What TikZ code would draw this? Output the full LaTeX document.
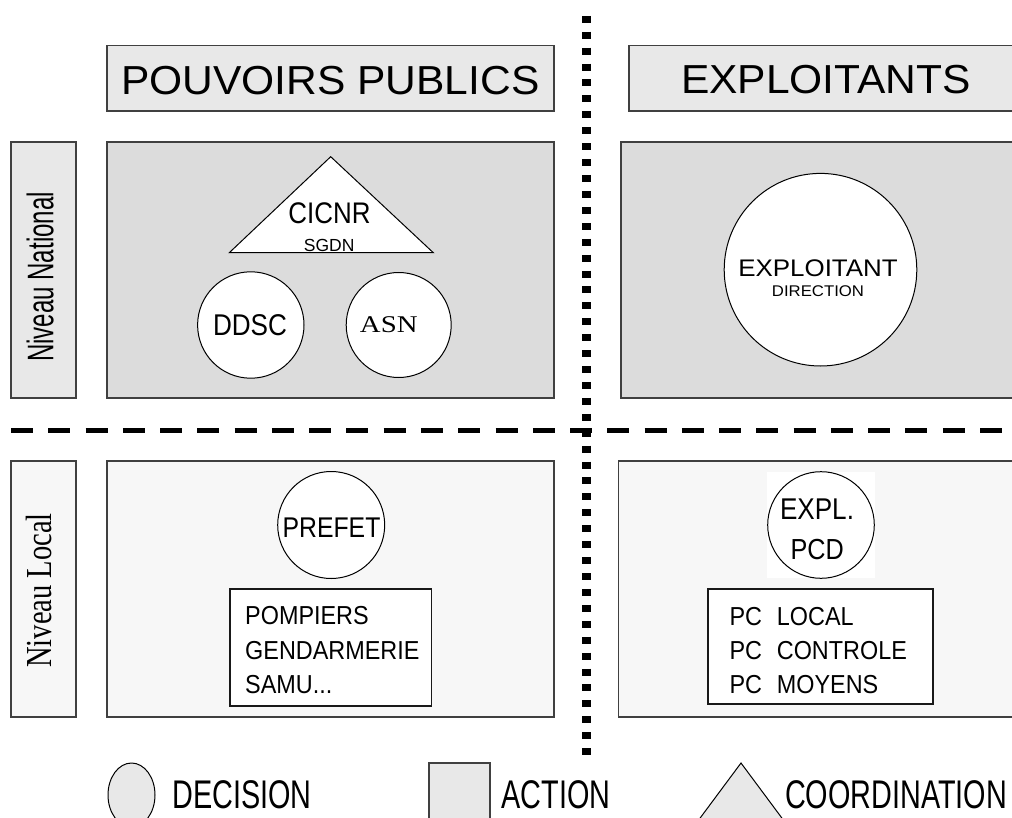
\documentclass[tikz,border=0pt]{standalone}
\usepackage{fontspec}
\setmainfont{Liberation Sans}
\newfontfamily\narH[FakeStretch=1.05]{Liberation Sans}
\newfontfamily\narA[FakeStretch=0.87]{Liberation Sans}
\newfontfamily\narB[FakeStretch=0.9]{Liberation Sans}
\newfontfamily\wideE[FakeStretch=1.08]{Liberation Sans}
\newfontfamily\narL[FakeStretch=0.72]{Liberation Sans}
\newfontfamily\narN[FakeStretch=0.65]{Liberation Sans}
\newfontfamily\serLoc[FakeStretch=0.78]{Liberation Serif}
\newfontfamily\serW[FakeStretch=1.2]{Liberation Serif}
\newcommand\fsz[1]{\fontsize{#1}{#1}\selectfont}
\definecolor{hdr}{HTML}{E8E8E8}
\definecolor{nat}{HTML}{DCDCDC}
\definecolor{loc}{HTML}{F7F7F7}
\definecolor{bord}{HTML}{404040}
\begin{document}
\begin{tikzpicture}[x=1pt,y=-1pt,
  panel/.style={rectangle, draw=bord, line width=1.6pt, inner sep=0pt},
  txt/.style={inner sep=0pt, anchor=base},
  ltxt/.style={inner sep=0pt, anchor=base west},
  circ/.style={circle, draw=black, line width=1pt, fill=white, inner sep=0pt},
  wbox/.style={rectangle, draw=black!90, line width=1.2pt, fill=white, inner sep=0pt}]
\useasboundingbox (0,0) rectangle (1012,818);
\clip (0,0) rectangle (1012,818);
\fill[white] (0,0) rectangle (1012,818);

% headers
\node[panel, fill=hdr, minimum width=447.3pt, minimum height=65.3pt] (hpp) at (330.35,78.35) {};
\node[panel, fill=hdr, minimum width=401pt, minimum height=65.3pt] (hex) at (829.5,78.35) {};
\node[txt] (tpp) at (330.3,95) {\narH\fsz{40.5}POUVOIRS PUBLICS};
\node[txt] (tex) at (826,94) {\narH\fsz{40.5}EXPLOITANTS};

% national row
\node[panel, fill=hdr, minimum width=64.7pt, minimum height=255.7pt] (lnat) at (43.35,269.85) {};
\node[panel, fill=nat, minimum width=447.3pt, minimum height=255.7pt] (pnat) at (330.35,269.85) {};
\node[panel, fill=nat, minimum width=409pt, minimum height=255.7pt] (enat) at (825.5,269.85) {};
\node[txt, rotate=90] (tlnat) at (53.3,277) {\narN\fsz{37}Niveau National};

% local row
\node[panel, fill=loc, minimum width=64.7pt, minimum height=255.7pt] (lloc) at (43.35,588.85) {};
\node[panel, fill=loc, minimum width=447.3pt, minimum height=255.7pt] (ploc) at (330.35,588.85) {};
\node[panel, fill=loc, minimum width=411.5pt, minimum height=255.7pt] (eloc) at (824.25,588.85) {};
\node[txt, rotate=90] (tlloc) at (51.7,590.5) {\serLoc\fsz{36.6}Niveau Local};

% coordination triangle
\filldraw[fill=white, draw=black, line width=1pt] (330.7,156.7) -- (229.3,252.7) -- (433.3,252.7) -- cycle;
\node[txt] (cicnr) at (329.5,224) {\narA\fsz{29.8}CICNR};
\node[txt] (sgdn) at (329.2,251.3) {\fsz{17.5}SGDN};

% national circles
\node[circ, minimum size=106.4pt] (ddsc) at (250.8,325) {};
\node[txt] (tddsc) at (250,335) {\narA\fsz{30}DDSC};
\node[circ, minimum size=105pt] (asn) at (398.7,325) {};
\node[txt] (tasn) at (388.8,332.3) {\serW\fsz{24}ASN};
\node[circ, minimum size=192.6pt] (expl) at (820.5,269.7) {};
\node[txt] (texpl) at (818,276.5) {\wideE\fsz{24}EXPLOITANT};
\node[txt] (tdir) at (818,296.5) {\wideE\fsz{15.5}DIRECTION};

% local
\node[circ, minimum size=107pt] (prefet) at (331.2,525) {};
\node[txt] (tprefet) at (331.5,537) {\narA\fsz{28.5}PREFET};
\node[rectangle, fill=white, inner sep=0pt, minimum width=108.3pt, minimum height=106.3pt] (pcdbg) at (820.85,524.85) {};
\node[circ, minimum size=106.6pt] (pcd) at (821,525) {};
\node[txt] (tpcd1) at (817,519.3) {\narA\fsz{30}EXPL.};
\node[txt] (tpcd2) at (817.2,559) {\narA\fsz{29}PCD};

\node[wbox, minimum width=201.7pt, minimum height=117pt] (pomp) at (330.85,647.5) {};
\node[ltxt] (p1) at (245,624.3) {\narB\fsz{26}POMPIERS};
\node[ltxt] (p2) at (245,659) {\narB\fsz{26}GENDARMERIE};
\node[ltxt] (p3) at (245,693.3) {\narB\fsz{26}SAMU...};

\node[wbox, minimum width=225pt, minimum height=115pt] (pcs) at (820.5,646.5) {};
\node[ltxt] (c1) at (729.3,625) {\narB\fsz{26}\makebox[47.4pt][l]{PC}LOCAL};
\node[ltxt] (c2) at (729.3,659.3) {\narB\fsz{26}\makebox[47.4pt][l]{PC}CONTROLE};
\node[ltxt] (c3) at (729.3,693.3) {\narB\fsz{26}\makebox[47.4pt][l]{PC}MOYENS};

% separators
\draw[line width=8.7pt, dash pattern=on 7pt off 8.92pt] (586.5,15.8) -- (586.5,755.2);
\draw[line width=5.6pt, dash pattern=on 22pt off 15.27pt] (11,430.5) -- (1002,430.5);

% legend
\filldraw[fill=hdr, draw=black, line width=1pt] (131.5,795) ellipse [x radius=23.5, y radius=32];
\node[txt] (ldec) at (242,808) {\narL\fsz{40}DECISION};
\filldraw[fill=hdr, draw=bord, line width=1.3pt] (429,763) rectangle (490,835);
\node[txt] (lact) at (556,808) {\narL\fsz{40}ACTION};
\filldraw[fill=hdr, draw=black, line width=1pt] (741,763) -- (689,833) -- (793,833) -- cycle;
\node[txt] (lcoo) at (896,808) {\narL\fsz{40}COORDINATION};
\end{tikzpicture}
\end{document}
